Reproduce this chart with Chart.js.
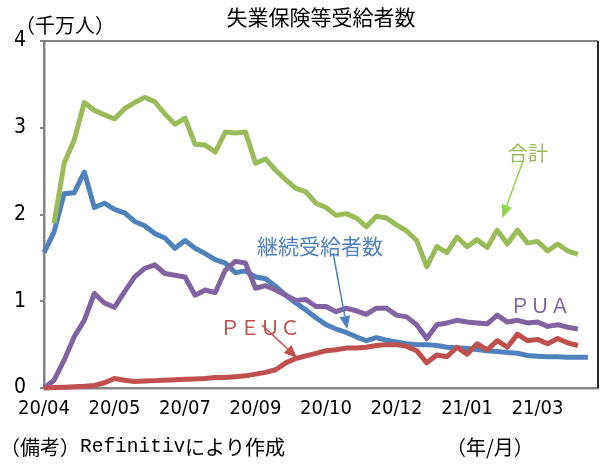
<!DOCTYPE html>
<html><head><meta charset="utf-8">
<script src="https://cdn.jsdelivr.net/npm/chart.js@4/dist/chart.umd.min.js"></script>
<style>html,body{margin:0;padding:0;background:#fff;} canvas{display:block;}</style>
</head><body>
<canvas id="c" width="612" height="464"></canvas>
<script>
// weekly observations from 2020/04 (last slot on the axis is empty)
const categories = [
 'w01','w02','w03','w04','w05','w06','w07','w08','w09','w10',
 'w11','w12','w13','w14','w15','w16','w17','w18','w19','w20',
 'w21','w22','w23','w24','w25','w26','w27','w28','w29','w30',
 'w31','w32','w33','w34','w35','w36','w37','w38','w39','w40',
 'w41','w42','w43','w44','w45','w46','w47','w48','w49','w50',
 'w51','w52','w53','w54','w55','w56'];
// x tick labels, one every 7 weeks
const tickLabels = ['20/04','20/05','20/07','20/09','20/10','20/12','21/01','21/03'];

// 千万人
const totalAll = [null,
 1.90,2.59,2.86,3.29,3.20,3.15,3.10,3.22,3.29,3.35,
 3.30,3.16,3.04,3.11,2.81,2.80,2.72,2.95,2.94,2.95,
 2.59,2.64,2.51,2.40,2.30,2.26,2.13,2.08,1.99,2.01,
 1.96,1.86,1.98,1.96,1.88,1.81,1.70,1.40,1.63,1.56,
 1.74,1.63,1.71,1.62,1.82,1.66,1.82,1.67,1.69,1.58,
 1.66,1.58,1.54,null,null];
const continued = [
 1.56,1.80,2.24,2.25,2.49,2.08,2.13,2.06,2.02,1.92,
 1.87,1.78,1.73,1.61,1.70,1.61,1.55,1.48,1.44,1.33,
 1.35,1.28,1.26,1.17,1.07,0.98,0.90,0.81,0.73,0.68,
 0.64,0.59,0.545,0.58,0.55,0.53,0.51,0.50,0.50,0.49,
 0.47,0.465,0.455,0.445,0.43,0.42,0.41,0.40,0.375,0.365,
 0.36,0.36,0.355,0.355,0.355,null];
const pua = [
 0,0.09,0.32,0.59,0.78,1.09,0.98,0.93,1.11,1.28,
 1.38,1.42,1.32,1.30,1.28,1.07,1.13,1.10,1.36,1.46,
 1.44,1.15,1.18,1.13,1.07,1.01,1.02,0.94,0.94,0.88,
 0.92,0.89,0.85,0.92,0.92,0.84,0.82,0.73,0.57,0.73,
 0.75,0.78,0.76,0.75,0.74,0.84,0.76,0.78,0.75,0.76,
 0.71,0.73,0.70,0.68,null,null];
const peuc = [
 0,0.005,0.01,0.015,0.02,0.03,0.06,0.11,0.09,0.075,
 0.08,0.085,0.09,0.095,0.10,0.105,0.11,0.12,0.12,0.13,
 0.14,0.16,0.18,0.21,0.29,0.34,0.37,0.40,0.43,0.44,
 0.46,0.46,0.47,0.49,0.50,0.50,0.48,0.43,0.29,0.38,
 0.36,0.47,0.39,0.51,0.44,0.545,0.47,0.62,0.545,0.56,
 0.51,0.57,0.52,0.49,null,null];

const GREEN='#9BBB59', BLUE='#4F81BD', RED='#C0504D', PURPLE='#8064A2';
const CJK = "'Noto Sans CJK JP', 'Noto Sans', sans-serif";
const NUM = "'Liberation Sans Narrow', 'DejaVu Sans Condensed', 'Liberation Sans', sans-serif";

// annotation anchors in data units: [category index, value]
const notes = [
 {text:'合計', color:GREEN, at:[48.06,2.71], size:20, from:[47.6,2.63], to:[45.5,1.96], arrow:'#92D050'},
 {text:'継続受給者数', color:BLUE, at:[27.4,1.637], size:21, from:[28.7,1.556], to:[30.1,0.68], arrow:BLUE},
 {text:'ＰＥＵＣ', color:RED, at:[21.45,0.703], size:20, from:[21.65,0.726], to:[25.12,0.346], arrow:RED},
 {text:'ＰＵＡ', color:PURPLE, at:[49.25,0.957], size:20}
];

function arrow(ctx,x1,y1,x2,y2,color){
  const hl=13, hw=11;
  const a=Math.atan2(y2-y1,x2-x1);
  const bx=x2-hl*Math.cos(a), by=y2-hl*Math.sin(a);
  ctx.strokeStyle=color; ctx.lineWidth=1.5;
  ctx.beginPath(); ctx.moveTo(x1,y1); ctx.lineTo(bx,by); ctx.stroke();
  ctx.fillStyle=color; ctx.beginPath();
  ctx.moveTo(x2,y2);
  ctx.lineTo(bx+hw/2*Math.sin(a), by-hw/2*Math.cos(a));
  ctx.lineTo(bx-hw/2*Math.sin(a), by+hw/2*Math.cos(a));
  ctx.closePath(); ctx.fill();
}

const bgPlugin = {
  id:'bg',
  beforeDraw(chart){
    const c=chart.ctx; c.save(); c.fillStyle='#fff'; c.fillRect(0,0,chart.width,chart.height); c.restore();
  }
};

const annoPlugin = {
  id:'anno',
  afterDraw(chart){
    const c=chart.ctx, xs=chart.scales.x, ys=chart.scales.y, ca=chart.chartArea;
    c.save();
    // plot frame (top / right)
    c.lineWidth=1.5;
    c.strokeStyle='#5a5a5a';
    c.beginPath(); c.moveTo(ca.left,ca.top); c.lineTo(ca.right,ca.top); c.stroke();
    c.strokeStyle='#262626'; c.lineWidth=2;
    c.beginPath(); c.moveTo(ca.right,ca.top); c.lineTo(ca.right,ca.bottom); c.stroke();

    for(const n of notes){
      c.font = n.size+'px '+CJK;
      c.fillStyle=n.color; c.textAlign='center'; c.textBaseline='middle';
      c.fillText(n.text, xs.getPixelForValue(n.at[0]), ys.getPixelForValue(n.at[1]));
      if(n.from){
        arrow(c, xs.getPixelForValue(n.from[0]), ys.getPixelForValue(n.from[1]),
                 xs.getPixelForValue(n.to[0]), ys.getPixelForValue(n.to[1]), n.arrow);
      }
    }
    // title
    c.fillStyle='#000'; c.textAlign='center'; c.textBaseline='middle';
    c.font='21px '+CJK;
    c.fillText('失業保険等受給者数', (ca.left+ca.right)/2, 17);
    // unit
    c.textAlign='left';
    c.font='20px '+CJK;
    c.fillText('（千万人）', 15, 25);
    // footnote
    c.fillText('（備考）', 0, 447);
    c.font="19.5px 'Liberation Mono', 'DejaVu Sans Mono', monospace";
    c.fillText('Refinitiv', 80, 447);
    c.font='20px '+CJK;
    c.fillText('により作成', 185, 447);
    c.fillText('（年/月）', 446, 447);
    c.restore();
  }
};

const mk = (label,data,color)=>({label,data,borderColor:color,backgroundColor:color,borderWidth:5,
  pointRadius:0,tension:0,fill:false,clip:6,borderJoinStyle:'round',spanGaps:false});

new Chart(document.getElementById('c').getContext('2d'), {
  type:'line',
  data:{labels:categories, datasets:[
    mk('合計', totalAll, GREEN),
    mk('PEUC', peuc, RED),
    mk('PUA', pua, PURPLE),
    mk('継続受給者数', continued, BLUE)
  ]},
  options:{
    responsive:false, animation:false, devicePixelRatio:1,
    layout:{padding:{top:41,right:14,left:0,bottom:0}},
    plugins:{legend:{display:false}, tooltip:{enabled:false}, title:{display:false}},
    scales:{
      x:{type:'category', offset:false,
         grid:{display:true, drawOnChartArea:false, drawTicks:false},
         border:{color:'#868686', width:2.5},
         ticks:{autoSkip:false, maxRotation:0, minRotation:0, padding:9, color:'#000',
                font:{family:NUM, size:20},
                callback:(v,i)=> i%7===0 ? tickLabels[i/7] : ''},
         afterFit:(s)=>{s.height=76;}},
      y:{min:0, max:4,
         ticks:{stepSize:1, padding:14, color:'#000', font:{family:NUM, size:21}},
         grid:{drawOnChartArea:false, drawTicks:true, tickLength:4, color:'#868686', lineWidth:2},
         border:{color:'#868686', width:2.5},
         afterFit:(s)=>{s.width=44;}}
    }
  },
  plugins:[bgPlugin, annoPlugin]
});
</script>
</body></html>
